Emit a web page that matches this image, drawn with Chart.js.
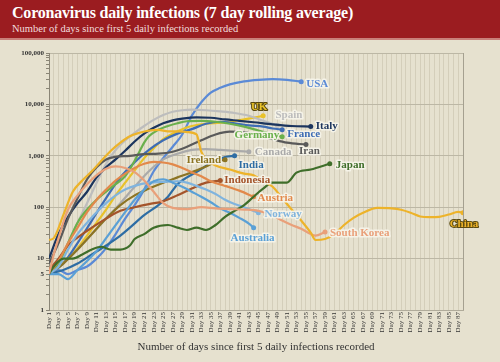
<!DOCTYPE html>
<html>
<head>
<meta charset="utf-8">
<script src="https://cdn.jsdelivr.net/npm/chart.js@4.4.1/dist/chart.umd.min.js"></script>
<style>
  html, body { margin: 0; padding: 0; background: #e6e1cf; }
  #wrap { width: 500px; height: 362px; position: relative; overflow: hidden; }
  #head { height: 40px; background: #9b1c20; border-bottom: 2px solid #c9807a; box-sizing: border-box; padding: 3px 0 0 12px; }
  #head h1 { margin: 0; font: bold 16px "Liberation Serif", serif; color: #fff; line-height: 19px; letter-spacing: -0.2px; }
  #head p { margin: 0; font: 10.5px "Liberation Serif", serif; color: #f1dede; line-height: 13px; }
  #box { position: absolute; left: 0; top: 40px; width: 500px; height: 322px; }
</style>
</head>
<body>
<div id="wrap">
  <div id="head">
    <h1>Coronavirus daily infections (7 day rolling average)</h1>
    <p>Number of days since first 5 daily infections recorded</p>
  </div>
  <div id="box"><canvas id="chart"></canvas></div>
</div>
<script>
// [day, 7-day average of new infections]
var usa = [[1,5],[3,6],[5,5],[7,6],[9,7],[11,10],[13,16],[15,30],[17,60],[19,110],[21,220],[23,500],[25,900],[27,1500],[29,2600],[31,6000],[33,11000],[35,17000],[37,21000],[39,24500],[42,28000],[45,30000],[48,31000],[51,30000],[54,27700]];
var uk = [[1,5],[3,7],[5,10],[7,16],[9,28],[11,50],[13,90],[15,170],[17,300],[19,520],[21,900],[23,1400],[25,2100],[27,2700],[29,3300],[31,3800],[34,4200],[37,4400],[40,4700],[43,5300],[46,6000]];
var spain = [[1,5],[3,8],[5,20],[7,50],[9,120],[11,300],[13,700],[15,1300],[17,2000],[19,2800],[21,3800],[23,5000],[25,6200],[27,7200],[29,7700],[31,7900],[34,7700],[37,7300],[40,6800],[43,6000],[46,4800],[49,3900]];
var italy = [[1,10],[3,30],[5,65],[7,120],[9,200],[11,380],[13,600],[15,850],[17,1250],[19,1900],[21,2700],[23,3500],[25,4300],[27,4900],[29,5300],[32,5600],[35,5500],[38,5100],[41,4800],[44,4500],[48,4100],[52,3800],[56,3700]];
var france = [[1,5],[4,8],[7,20],[10,55],[13,150],[16,380],[19,750],[22,1300],[25,2000],[28,2700],[31,3300],[34,4200],[37,4600],[40,4300],[43,3900],[46,3700],[48,3400],[50,3230]];
var germany = [[1,5],[3,8],[5,20],[7,50],[9,90],[11,140],[13,200],[15,280],[17,400],[18,550],[19,800],[20,1200],[21,1800],[22,2400],[24,3200],[26,3800],[28,4300],[30,4700],[33,4800],[36,4600],[39,4200],[42,3700],[45,3100],[48,2600],[50,2360]];
var canada = [[1,5],[4,8],[7,15],[10,30],[13,60],[16,120],[19,250],[22,500],[25,850],[28,1100],[31,1300],[34,1350],[37,1300],[40,1250],[43,1200]];
var iran = [[1,8],[3,20],[5,60],[7,150],[9,350],[11,600],[13,850],[15,950],[18,1000],[21,1080],[24,1100],[27,1200],[30,1500],[33,2000],[36,2600],[39,2950],[42,2900],[45,2500],[48,2100],[51,1800],[55,1650]];
var india = [[1,5],[4,6],[7,8],[10,12],[13,18],[16,28],[18,40],[21,70],[24,110],[26,160],[28,280],[30,380],[33,550],[35,730],[38,950],[40,1000]];
var ireland = [[1,5],[4,8],[7,15],[10,30],[13,60],[16,110],[19,170],[22,230],[25,300],[28,380],[31,480],[34,620],[36,760],[38,840]];
var japan = [[1,5],[2,7],[4,10],[6,10],[8,12],[10,15],[12,17],[14,15],[16,15],[18,18],[19,24],[21,30],[23,40],[26,45],[28,40],[30,36],[32,40],[34,36],[36,45],[38,65],[40,85],[42,110],[44,160],[46,230],[48,300],[51,300],[53,470],[56,540],[60,700]];
var indonesia = [[1,6],[3,10],[5,18],[8,30],[10,40],[13,60],[16,85],[19,100],[22,115],[25,130],[28,170],[31,230],[34,300],[37,330]];
var austria = [[1,5],[3,9],[5,20],[7,40],[9,80],[11,140],[13,220],[15,330],[17,450],[19,580],[21,700],[23,760],[25,740],[27,680],[29,580],[31,480],[33,400],[35,320],[38,260],[41,210],[44,160]];
var norway = [[1,5],[3,7],[5,15],[7,30],[9,50],[11,80],[13,120],[15,170],[17,220],[19,260],[22,300],[25,310],[28,320],[30,300],[32,260],[34,220],[36,180],[38,140],[40,115],[42,100],[45,78]];
var australia = [[1,5],[3,5],[5,4],[7,6],[9,9],[11,14],[13,25],[15,45],[17,80],[19,140],[21,220],[23,320],[25,350],[27,300],[29,250],[31,200],[33,160],[35,125],[37,95],[39,78],[41,62],[43,48],[44,40]];
var southKorea = [[1,5],[2,12],[3,25],[5,90],[7,170],[9,280],[11,420],[13,560],[15,620],[17,580],[19,480],[21,330],[23,200],[25,120],[27,97],[30,92],[33,100],[36,95],[39,92],[42,90],[45,85],[48,70],[50,55],[52,45],[54,38],[56,30],[57,28],[59,33]];
var china = [[1,23],[2,25],[4,70],[6,200],[8,330],[10,500],[12,800],[14,1250],[16,1800],[18,2400],[20,2800],[22,3100],[24,3200],[26,3000],[28,3000],[30,2900],[32,2600],[33,1200],[34,850],[36,650],[39,540],[42,450],[44,420],[46,320],[48,250],[50,150],[52,90],[54,55],[56,32],[57,23],[59,24],[61,30],[63,45],[65,62],[67,78],[70,97],[73,95],[75,89],[77,78],[79,66],[81,64],[83,65],[85,72],[87,81],[88,78]];

var names = ['China', 'South Korea', 'Japan', 'Australia', 'Norway', 'Austria', 'Indonesia', 'Ireland', 'India', 'Canada', 'Iran', 'Germany', 'France', 'Italy', 'Spain', 'UK', 'USA'];
var series = [china, southKorea, japan, australia, norway, austria, indonesia, ireland, india, canada, iran, germany, france, italy, spain, uk, usa];
var colors = ['#edb32a', '#e9a07a', '#3f6e2a', '#5aa0d6', '#80b4de', '#e2894b', '#a4542a', '#8c7423', '#2e6da4', '#aaaaaa', '#5a5a5a', '#6ab04c', '#3e6db5', '#1c355e', '#bdbdbd', '#e8c22a', '#5b8ad6'];
// label offset from the end dot: dx, dy, align, dark outline
var labelPos = [[1, 11, 'center', 1], [5, 1, 'left'], [6, 1, 'left'], [-1, 11, 'center'], [6, 1, 'left'], [4, 1, 'left'], [4, 0, 'left'], [-4, 0, 'right'], [4, 9, 'left'], [6, 0, 'left'], [-7, 7, 'left'], [-3, -1, 'right'], [5, 5, 'left'], [5, 0, 'left'], [-2, -10, 'left'], [-4, -9, 'center', 1], [5, 2, 'left']];

var dayMin = 1, dayMax = 88;
var yDecades = [1, 10, 100, 1000, 10000, 100000];
var yLabels = [1, 5, 10, 100, 1000, 10000, 100000];
var yTicks = [];
yDecades.forEach(function (d) {
    for (var k = 1; k < 10; k++) {
        if (d * k <= 100000) yTicks.push(d * k);
    }
});

var datasets = [];
for (var i = 0; i < series.length; i++) {
    (function (s, c) {
        datasets.push({
            label: names[i],
            data: s.map(function (p) { return {x: p[0], y: p[1]}; }),
            borderColor: c,
            backgroundColor: c,
            borderWidth: 2.2,
            cubicInterpolationMode: 'monotone',
            pointRadius: function (ctx) { return ctx.dataIndex === s.length - 1 ? 2.5 : 0; },
            pointBackgroundColor: c,
            pointBorderWidth: 0
        });
    })(series[i], colors[i]);
}

var endLabels = {
    id: 'endLabels',
    afterDatasetsDraw: function (chart) {
        var ctx = chart.ctx;
        chart.data.datasets.forEach(function (ds, i) {
            var meta = chart.getDatasetMeta(i);
            var pt = meta.data[meta.data.length - 1];
            var lp = labelPos[i];
            var x = pt.x + lp[0], y = pt.y + lp[1];
            ctx.save();
            ctx.font = 'bold 11px "Liberation Serif", serif';
            ctx.textAlign = lp[2];
            ctx.textBaseline = 'middle';
            ctx.lineJoin = 'round';
            ctx.lineWidth = lp[3] ? 2 : 3;
            ctx.strokeStyle = lp[3] ? '#5a4a10' : 'rgba(246,243,233,0.95)';
            ctx.strokeText(names[i], x, y);
            ctx.fillStyle = ds.borderColor;
            ctx.fillText(names[i], x, y);
            ctx.restore();
        });
    }
};

new Chart(document.getElementById('chart'), {
    type: 'line',
    data: {datasets: datasets},
    plugins: [endLabels],
    options: {
        responsive: true,
        maintainAspectRatio: false,
        animation: false,
        layout: {padding: {top: 13, right: 37, left: 0, bottom: 0}},
        plugins: {legend: {display: false}, tooltip: {enabled: false}},
        scales: {
            x: {
                type: 'linear',
                min: dayMin,
                max: dayMax,
                afterFit: function (sc) { sc.height = 52; },
                ticks: {
                    stepSize: 1,
                    autoSkip: false,
                    maxRotation: 90,
                    minRotation: 90,
                    padding: 2,
                    color: '#333',
                    font: {family: '"Liberation Serif", serif', size: 7},
                    callback: function (v) { return (v % 2 === 1 && v <= 87) ? 'Day ' + v : ''; }
                },
                grid: {
                    color: function (ctx) { return ctx.tick && ctx.tick.value === dayMax ? '#a5a090' : '#d4ceba'; },
                    drawTicks: false
                },
                border: {color: '#b0ab9a'},
                title: {
                    display: true,
                    text: 'Number of days since first 5 daily infections recorded',
                    color: '#333',
                    font: {family: '"Liberation Serif", serif', size: 11},
                    padding: {top: 0, bottom: 8}
                }
            },
            y: {
                type: 'logarithmic',
                min: 1,
                max: 100000,
                afterFit: function (sc) { sc.width = 49; },
                afterBuildTicks: function (sc) {
                    sc.ticks = yTicks.map(function (v) { return {value: v}; });
                },
                ticks: {
                    autoSkip: false,
                    padding: 2,
                    color: '#333',
                    font: {family: '"Liberation Serif", serif', size: 7, weight: 'bold'},
                    callback: function (v) { return yLabels.indexOf(v) >= 0 ? v.toLocaleString('en-US') : ''; }
                },
                grid: {
                    color: function (ctx) { return ctx.tick && yDecades.indexOf(ctx.tick.value) >= 0 ? '#bcb7a5' : 'rgba(0,0,0,0)'; },
                    tickColor: '#8a8576',
                    tickLength: 3
                },
                border: {color: '#8a8576'}
            }
        }
    }
});
</script>
</body>
</html>
